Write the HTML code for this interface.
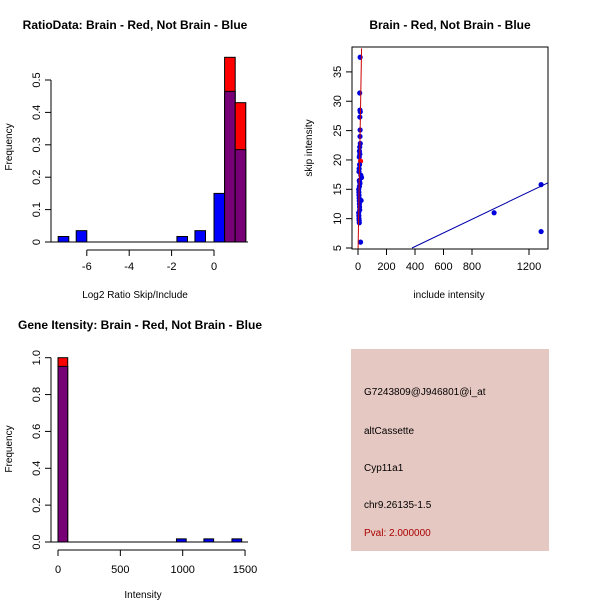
<!DOCTYPE html>
<html><head><meta charset="utf-8"><style>
body{margin:0;background:#fff;}
svg{display:block;font-family:"Liberation Sans",sans-serif;}
</style></head><body>
<svg id="c" width="600" height="600" xmlns="http://www.w3.org/2000/svg"></svg>
<script>
// Panel 1: ratio histogram
const ratioLefts=[-7.35,-6.5,-1.75,-0.9,0,0.5,1];
const ratioBlue=[0.017,0.035,0.017,0.035,0.15,0.465,0.285];
const ratioRed=[0,0,0,0,0,0.57,0.43];
const ratioXTicks=[-6,-4,-2,0];
const ratioYTicks=[0,0.1,0.2,0.3,0.4,0.5];
// Panel 2: scatter
const scatX=[15,12,14,16,13,15,14,16,12,10,13,9,18,11,8,7,20,25,9,14,5,6,7,8,9,10,11,12,5,6,7,8,9,10,11,22,18,955,1285,1285];
const scatY=[37.5,31.4,28.5,28.2,27.3,25.1,24,22.8,22.2,21.5,21,20.5,19.8,19.2,18.5,18,17.4,17,16.5,16,15,14.5,14,13.5,13,12.5,12,11.5,11,10.5,10,9.7,9.3,15.5,16.3,13.1,6,11,15.8,7.8];
const scatXTicks=[0,200,400,600,800,1200];
const scatYTicks=[5,10,15,20,25,30,35];
const blueFit=[[379,5],[1333,16.1]];
const redFit=[[0,4],[25,39]];
// Panel 3: intensity histogram
const intLefts=[0,950,1170,1395];
const intBlue=[0.953,0.017,0.017,0.017];
const intRed=[1.0,0,0,0];
const intXTicks=[0,500,1000,1500];
const intYTicks=[0,0.2,0.4,0.6,0.8,1.0];

const S=document.getElementById('c');const NS='http://www.w3.org/2000/svg';
function mk(t,a,txt){const e=document.createElementNS(NS,t);for(const k in a)e.setAttribute(k,a[k]);if(txt!==undefined)e.textContent=txt;S.appendChild(e);return e;}
function fmt(v){return (Math.round(v*10)/10).toString();}

// ---------- Panel 1
const x1=v=>214+v*21.2, y1=v=>242-v*324;
let e=mk('text',{x:135,y:29,'font-size':12,'font-weight':'bold','text-anchor':'middle'},'RatioData: Brain - Red, Not Brain - Blue');

ratioLefts.forEach((l,i)=>{
 if(ratioRed[i]>0){const r=mk('rect',{x:x1(l),y:y1(ratioRed[i]),width:x1(l+0.5)-x1(l),height:y1(0)-y1(ratioRed[i]),fill:'#ff0000',stroke:'#000','stroke-width':1});
 }
 const col=ratioRed[i]>0?'#770077':'#0000ff';
 const b=mk('rect',{x:x1(l),y:y1(ratioBlue[i]),width:x1(l+0.5)-x1(l),height:y1(0)-y1(ratioBlue[i]),fill:col,stroke:'#000','stroke-width':1});
 
});
mk('line',{x1:50,x2:248,y1:242,y2:242,stroke:'#000'});
mk('line',{x1:x1(-6),x2:x1(0),y1:250,y2:250,stroke:'#000'});
ratioXTicks.forEach(t=>{mk('line',{x1:x1(t),x2:x1(t),y1:250,y2:256,stroke:'#000'});
 const tx=mk('text',{x:x1(t),y:270,'font-size':11,'text-anchor':'middle'},t);});
mk('line',{x1:51,x2:51,y1:y1(0),y2:y1(0.5),stroke:'#000'});
ratioYTicks.forEach(t=>{mk('line',{x1:45,x2:51,y1:y1(t),y2:y1(t),stroke:'#000'});
 const tx=mk('text',{x:0,y:0,'font-size':11,'text-anchor':'middle',transform:`translate(40,${y1(t)}) rotate(-90)`},fmt(t));});
e=mk('text',{x:135,y:298,'font-size':10,'text-anchor':'middle'},'Log2 Ratio Skip/Include');
e=mk('text',{x:0,y:0,'font-size':10,'text-anchor':'middle',transform:'translate(12,147) rotate(-90)'},'Frequency');

// ---------- Panel 2
const x2=v=>358+v*0.1425, y2=v=>248-(v-5)*5.87;
e=mk('text',{x:450,y:29,'font-size':12,'font-weight':'bold','text-anchor':'middle'},'Brain - Red, Not Brain - Blue');
mk('defs',{}).innerHTML='<clipPath id="cp"><rect x="352" y="47" width="196" height="202"/></clipPath>';
const g=mk('g',{'clip-path':'url(#cp)'});
function ln(p,col,name){const l=document.createElementNS(NS,'line');l.setAttribute('x1',x2(p[0][0]));l.setAttribute('y1',y2(p[0][1]));l.setAttribute('x2',x2(p[1][0]));l.setAttribute('y2',y2(p[1][1]));l.setAttribute('stroke',col);
 
 g.appendChild(l);}
scatX.forEach((v,i)=>{const c=document.createElementNS(NS,'circle');c.setAttribute('cx',x2(v));c.setAttribute('cy',y2(scatY[i]));c.setAttribute('r',2.6);c.setAttribute('fill',i===12?'#ff0000':'#0000dd');
 
 g.appendChild(c);});
ln(blueFit,'#0000aa','blue-fit-line');ln(redFit,'#cc0000','red-fit-line');
e=mk('rect',{x:352,y:47,width:196,height:202,fill:'none',stroke:'#000'});
scatXTicks.forEach(t=>{mk('line',{x1:x2(t),x2:x2(t),y1:249,y2:255,stroke:'#000'});
 const tx=mk('text',{x:x2(t),y:270,'font-size':11,'text-anchor':'middle'},t);});
scatYTicks.forEach(t=>{mk('line',{x1:346,x2:352,y1:y2(t),y2:y2(t),stroke:'#000'});
 const tx=mk('text',{x:0,y:0,'font-size':11,'text-anchor':'middle',transform:`translate(341,${y2(t)}) rotate(-90)`},t);});
e=mk('text',{x:449,y:298,'font-size':10,'text-anchor':'middle'},'include intensity');
e=mk('text',{x:0,y:0,'font-size':10,'text-anchor':'middle',transform:'translate(312,148) rotate(-90)'},'skip intensity');

// ---------- Panel 3
const x3=v=>58+v*0.1247, y3=v=>542-v*184.3, bw=78;
e=mk('text',{x:140,y:329,'font-size':12,'font-weight':'bold','text-anchor':'middle'},'Gene Itensity: Brain - Red, Not Brain - Blue');
intLefts.forEach((l,i)=>{
 if(intRed[i]>0){const r=mk('rect',{x:x3(l),y:y3(intRed[i]),width:x3(l+bw)-x3(l),height:y3(0)-y3(intRed[i]),fill:'#ff0000',stroke:'#000'});}
 const col=intRed[i]>0?'#770077':'#0000ff';
 const b=mk('rect',{x:x3(l),y:y3(intBlue[i]),width:x3(l+bw)-x3(l),height:y3(0)-y3(intBlue[i]),fill:col,stroke:'#000'});
});
mk('line',{x1:50,x2:248,y1:542,y2:542,stroke:'#000'});
mk('line',{x1:x3(0),x2:x3(1500),y1:550,y2:550,stroke:'#000'});
intXTicks.forEach(t=>{mk('line',{x1:x3(t),x2:x3(t),y1:550,y2:556,stroke:'#000'});
 const tx=mk('text',{x:x3(t),y:573,'font-size':11,'text-anchor':'middle'},t);});
mk('line',{x1:51,x2:51,y1:y3(0),y2:y3(1),stroke:'#000'});
intYTicks.forEach(t=>{mk('line',{x1:45,x2:51,y1:y3(t),y2:y3(t),stroke:'#000'});
 const tx=mk('text',{x:0,y:0,'font-size':11,'text-anchor':'middle',transform:`translate(40,${y3(t)}) rotate(-90)`},t.toFixed(1));});
e=mk('text',{x:143,y:598,'font-size':10,'text-anchor':'middle'},'Intensity');
e=mk('text',{x:0,y:0,'font-size':10,'text-anchor':'middle',transform:'translate(12,449) rotate(-90)'},'Frequency');

// ---------- Panel 4 info
e=mk('rect',{x:351,y:349,width:198,height:202,fill:'#e6c8c2'});
[['G7243809@J946801@i_at',395,'#000','probe-id'],['altCassette',434,'#000','event-type'],['Cyp11a1',471,'#000','gene-name'],['chr9.26135-1.5',508,'#000','location'],['Pval: 2.000000',536,'#aa0000','pval']].forEach(r=>{
 const t=mk('text',{x:364,y:r[1],'font-size':10,fill:r[2]},r[0]);});
</script>
</body></html>
